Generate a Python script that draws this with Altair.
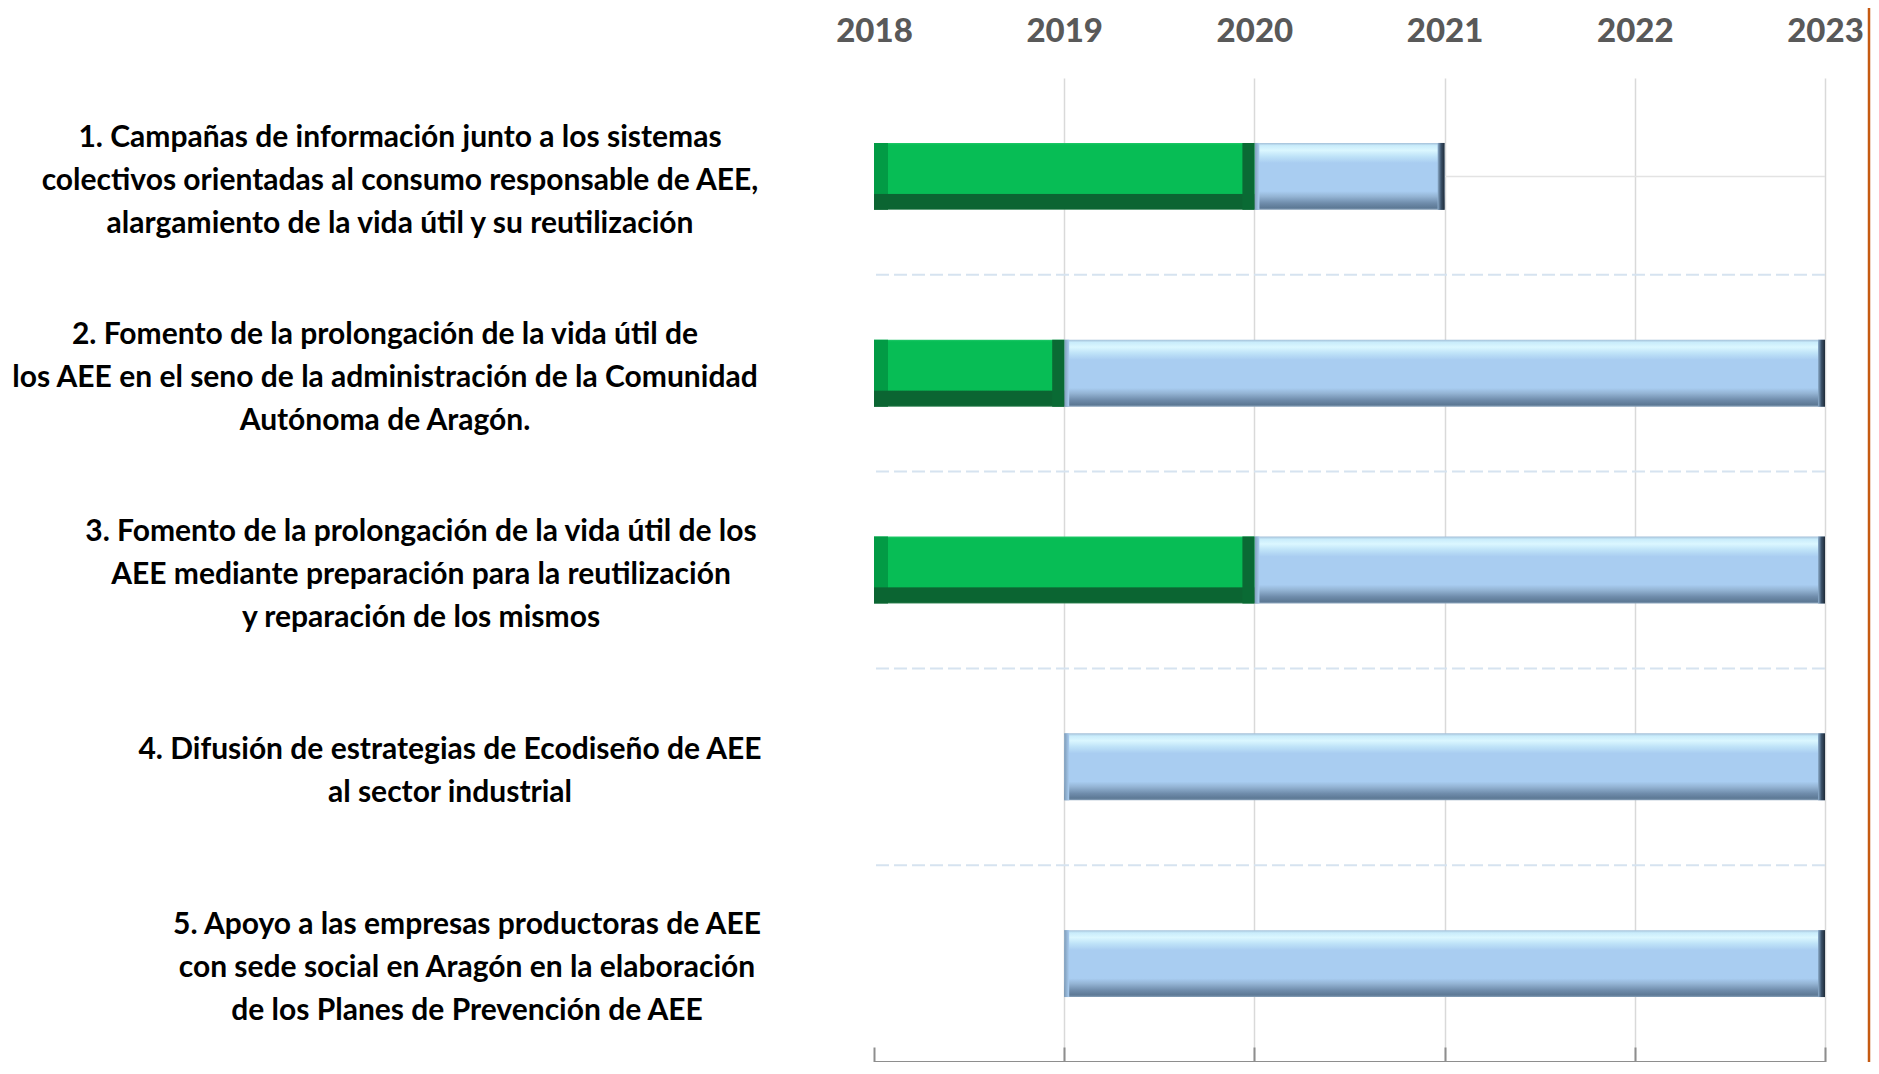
import altair as alt
import pandas as pd

# ---------------- data ----------------
task_labels = [
    "1. Campañas de información junto a los sistemas|colectivos orientadas al consumo responsable de AEE,|alargamiento de la vida útil y su reutilización",
    "2. Fomento de la prolongación de la vida útil de|los AEE en el seno de la administración de la Comunidad|Autónoma de Aragón.",
    "3. Fomento de la prolongación de la vida útil de los|AEE mediante preparación para la reutilización|y reparación de los mismos",
    "4. Difusión de estrategias de Ecodiseño de AEE|al sector industrial",
    "5. Apoyo a las empresas productoras de AEE|con sede social en Aragón en la elaboración|de los Planes de Prevención de AEE",
]
done_start = [2018, 2018, 2018, None, None]
done_end = [2020, 2019, 2020, None, None]
plan_start = [2020, 2019, 2020, 2019, 2019]
plan_end = [2021, 2023, 2023, 2023, 2023]
years = [2018, 2019, 2020, 2021, 2022, 2023]

rows = []
for i, t in enumerate(task_labels):
    if done_start[i] is not None:
        rows.append({"task": t, "phase": "done", "start": done_start[i], "end": done_end[i]})
    rows.append({"task": t, "phase": "plan", "start": plan_start[i], "end": plan_end[i]})
df = pd.DataFrame(rows)
sep_df = pd.DataFrame({"task": task_labels[1:]})

# ---------------- style ----------------
FONT = "Lato"
LABEL_SIZE = 30
LINE_H = 43
label_dx = [-474, -489, -453, -424, -407]  # horizontal centre of each label block (style)

x_scale = alt.Scale(domain=[2018, 2023], nice=False, zero=False)
y_scale = alt.Scale(domain=task_labels, paddingInner=0, paddingOuter=0)
BAR_H = alt.RelativeBandSize(0.34)


def grad_v(stops):
    return alt.LinearGradient(
        gradient="linear", x1=0, x2=0, y1=0, y2=1,
        stops=[alt.GradientStop(color=c, offset=o) for o, c in stops],
    )


def grad_h(stops):
    return alt.LinearGradient(
        gradient="linear", x1=0, x2=1, y1=0, y2=0,
        stops=[alt.GradientStop(color=c, offset=o) for o, c in stops],
    )


green_fill = grad_v([(0, "#22c96a"), (0.03, "#07bd55"), (0.755, "#07bd55"),
                     (0.765, "#0b6532"), (0.98, "#0b6532"), (1, "#3c8a5c")])
green_left = grad_v([(0, "#029b45"), (0.755, "#029b45"), (0.765, "#0b6532"), (1, "#0b6532")])
green_right = grad_v([(0, "#0a6a34"), (1, "#0a6a34")])

blue_fill = grad_v([(0, "#a3bfd8"), (0.04, "#c9ecfb"), (0.11, "#dbf7ff"), (0.2, "#bfe3f8"),
                    (0.3, "#a9cdf1"), (0.72, "#a9cdf1"), (0.8, "#94b4d4"),
                    (0.9, "#6f8cab"), (0.97, "#5d7995"), (1, "#8aa3bb")])
blue_left = grad_h([(0, "#7e9bb7"), (1, "#a9cdf1")])
blue_right = grad_h([(0, "#8fb0cf"), (0.5, "#3a5068"), (1, "#1e2b38")])

top_axis = alt.Axis(
    orient="top", values=years, format="d", title=None,
    domain=False, ticks=False, tickSize=0,
    labelFont=FONT, labelFontSize=33, labelFontWeight=900, labelColor="#595959",
    labelBaseline="alphabetic", labelPadding=37, labelAlign="center",
    grid=True, gridColor="#d9d9d9", gridWidth=1.5,
    gridOpacity=alt.condition("datum.value == 2018", alt.value(0), alt.value(1)),
)
bottom_domain_axis = alt.Axis(
    orient="bottom", values=years, title=None, labels=False, ticks=False,
    grid=False, domain=True, domainColor="#8e8e8e", domainWidth=3,
)
bottom_tick_axis = alt.Axis(
    orient="bottom", values=years, title=None, labels=False, domain=False,
    grid=False, ticks=True, tickSize=30, tickColor="#8e8e8e", tickWidth=2, offset=-15,
)

base = alt.Chart(df)
y_plain = alt.Y("task:N", sort=task_labels, scale=y_scale, axis=None)

separators = alt.Chart(sep_df).mark_rule(
    color="#d6e3f0", strokeDash=[13, 5], strokeWidth=2
).encode(y=alt.Y("task:N", sort=task_labels, scale=y_scale, axis=None, bandPosition=0))

blue = base.transform_filter("datum.phase === 'plan'")
green = base.transform_filter("datum.phase === 'done'")

# faint category line continuing from the end of each bar to the end of the axis
center_lines = blue.mark_rule(color="#e3e3e3", strokeWidth=1.5).encode(
    x=alt.X("end:Q", scale=x_scale, axis=None), x2=alt.datum(2023), y=y_plain)

blue_main = blue.mark_bar(height=BAR_H, fill=blue_fill).encode(
    x=alt.X("start:Q", scale=x_scale, axis=top_axis), x2="end:Q", y=y_plain)
blue_l = blue.mark_bar(height=BAR_H, fill=blue_left, x2Offset=5).encode(
    x=alt.X("start:Q", scale=x_scale, axis=bottom_domain_axis), x2="start:Q", y=y_plain)
blue_r = blue.mark_bar(height=BAR_H, fill=blue_right, xOffset=-7).encode(
    x=alt.X("end:Q", scale=x_scale, axis=bottom_tick_axis), x2="end:Q", y=y_plain)

green_main = green.mark_bar(height=BAR_H, fill=green_fill).encode(
    x=alt.X("start:Q", scale=x_scale, axis=None), x2="end:Q", y=y_plain)
green_l = green.mark_bar(height=BAR_H, fill=green_left, x2Offset=14).encode(
    x=alt.X("start:Q", scale=x_scale, axis=None), x2="start:Q", y=y_plain)
green_r = green.mark_bar(height=BAR_H, fill=green_right, xOffset=-12).encode(
    x=alt.X("end:Q", scale=x_scale, axis=None), x2="end:Q", y=y_plain)

label_layers = []
for t, dx in zip(task_labels, label_dx):
    n_lines = len(t.split("|"))
    label_layers.append(
        alt.Chart(pd.DataFrame({"task": [t]})).mark_text(
            align="center", baseline="middle", lineBreak="|",
            font=FONT, fontSize=LABEL_SIZE, fontWeight="bold", lineHeight=LINE_H,
            color="#000000", dy=-(n_lines - 1) * LINE_H / 2 + 4.5,
        ).encode(
            y=alt.Y("task:N", sort=task_labels, scale=y_scale, axis=None),
            x=alt.value(dx),
            text="task:N",
        )
    )

frame = alt.Chart(alt.Data(values=[{"f": 1}])).mark_rule(
    color="#c55a11", strokeWidth=2.5
).encode(x=alt.value(995), y=alt.value(-70), y2=alt.value(990))

chart = alt.layer(
    separators, center_lines, blue_main, blue_l, blue_r, green_main, green_l, green_r,
    *label_layers, frame
).resolve_axis(x="independent").properties(
    width=951, height=984,
    autosize=alt.AutoSizeParams(type="none"),
    padding={"left": 866, "top": 70, "right": 46, "bottom": 0},
    background="white",
).configure_view(stroke=None)

chart.save("out.html", embed_options={"renderer": "svg", "actions": False})
